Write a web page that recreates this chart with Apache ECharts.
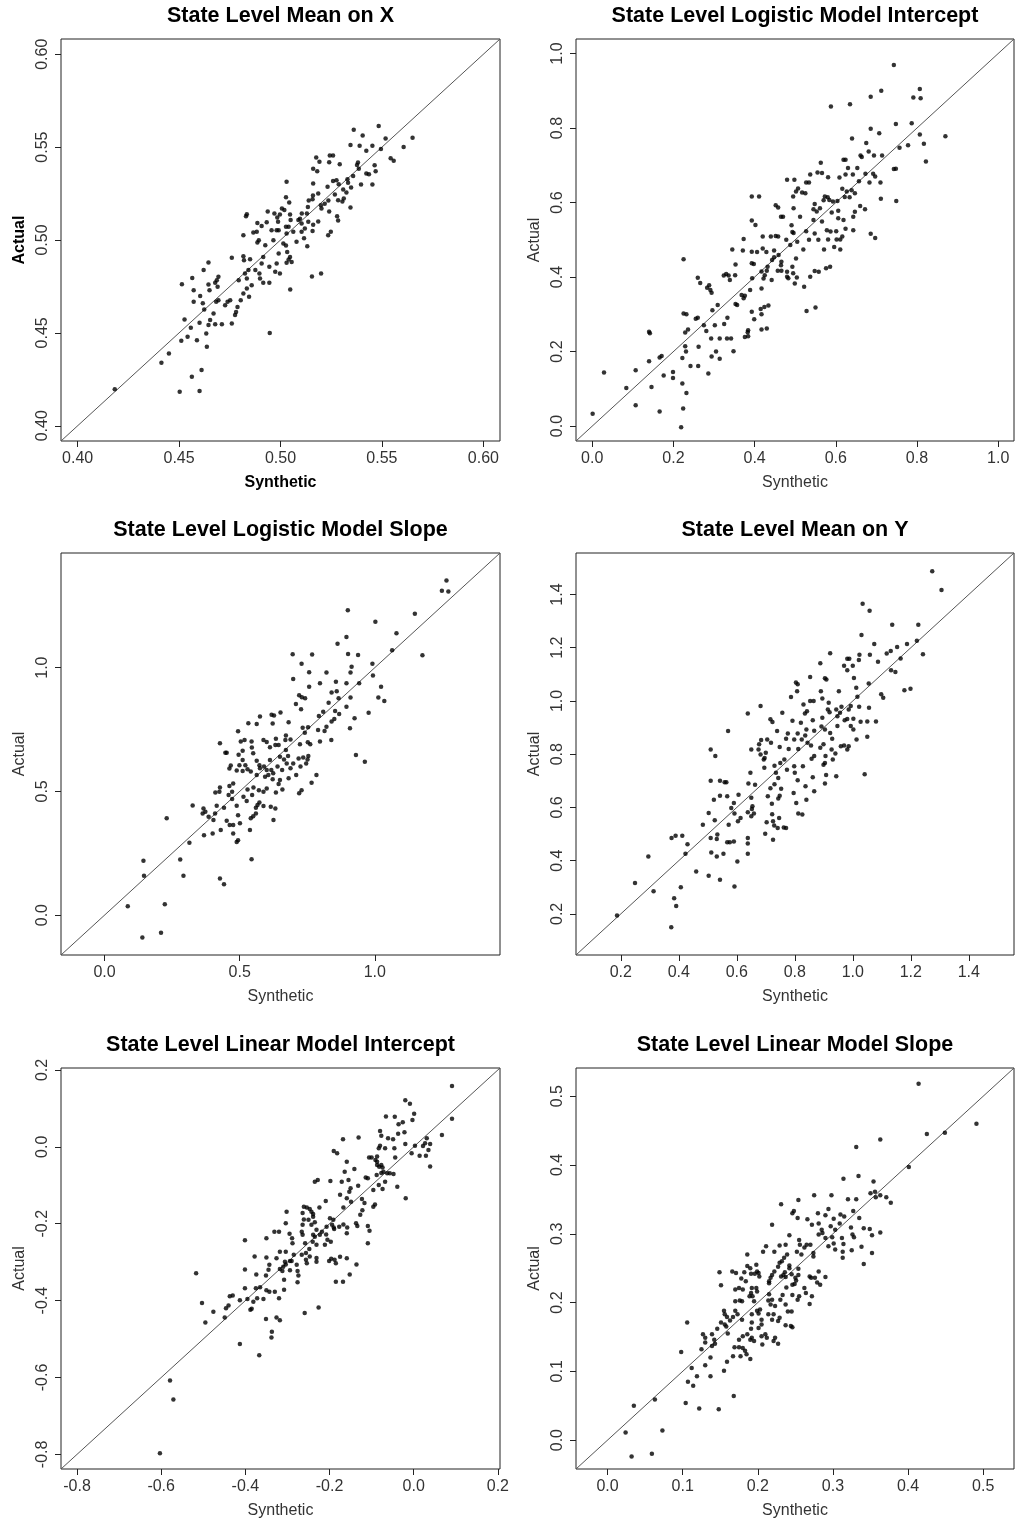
<!DOCTYPE html>
<html>
<head>
<meta charset="utf-8">
<script src="https://cdn.jsdelivr.net/npm/echarts@6/dist/echarts.min.js"></script>
<style>
  html, body { margin: 0; padding: 0; background: #fff; }
  #chart { width: 1015px; height: 1525px; }
</style>
</head>
<body>
<div id="chart"></div>
<script>
// Synthetic vs. actual state-level estimates, one [synthetic, actual] pair per state sample.
const meanXPoints = [
  [0.5484,0.5613],[0.5361,0.5593],[0.5405,0.5562],[0.5518,0.5546],[0.5651,0.5550],[0.5345,0.5512],[0.5390,0.5508],[0.5453,0.5508],
  [0.5423,0.5480],[0.5607,0.5501],[0.5495,0.5490],[0.5543,0.5440],[0.5558,0.5426],[0.5382,0.5417],[0.5377,0.5404],[0.5464,0.5403],
  [0.5469,0.5370],[0.5423,0.5358],[0.5436,0.5354],[0.5386,0.5383],[0.5358,0.5345],[0.5330,0.5327],[0.5453,0.5299],[0.5397,0.5299],
  [0.5348,0.5283],[0.5325,0.5256],[0.5312,0.5223],[0.5345,0.5175],[0.5276,0.5322],[0.5287,0.5300],[0.5292,0.5408],[0.5243,0.5455],
  [0.5259,0.5455],[0.5192,0.5421],[0.5240,0.5419],[0.5176,0.5444],[0.5181,0.5370],[0.5161,0.5383],[0.5161,0.5304],[0.5160,0.5239],
  [0.5186,0.5250],[0.5232,0.5286],[0.5259,0.5318],[0.5309,0.5272],[0.5268,0.5245],[0.5284,0.5214],[0.5305,0.5207],[0.5236,0.5213],
  [0.5218,0.5195],[0.5199,0.5187],[0.5202,0.5170],[0.5240,0.5153],[0.5279,0.5128],[0.5284,0.5105],[0.5248,0.5044],[0.5235,0.5026],
  [0.5186,0.5100],[0.5158,0.5220],[0.5139,0.5213],[0.5135,0.5178],[0.5130,0.5143],[0.5105,0.5143],[0.5096,0.5114],[0.5104,0.5089],
  [0.5088,0.5107],[0.5137,0.5098],[0.5161,0.5082],[0.5158,0.5048],[0.5120,0.5062],[0.5104,0.5044],[0.5116,0.5010],[0.5132,0.4967],
  [0.5079,0.4990],[0.5063,0.5044],[0.5040,0.5071],[0.5050,0.5107],[0.5047,0.5137],[0.5043,0.5202],[0.5030,0.5313],[0.5027,0.5230],
  [0.5019,0.5161],[0.5007,0.5170],[0.4997,0.5137],[0.4984,0.5121],[0.4970,0.5143],[0.4988,0.5098],[0.4991,0.5053],[0.5027,0.5071],
  [0.5030,0.5035],[0.4981,0.5053],[0.4956,0.5053],[0.4937,0.5153],[0.4932,0.5096],[0.4907,0.5076],[0.4886,0.5092],[0.4883,0.5044],
  [0.4866,0.5040],[0.4893,0.4999],[0.4886,0.4987],[0.4925,0.4972],[0.4965,0.4999],[0.5014,0.4981],[0.5027,0.4970],[0.5033,0.4936],
  [0.5047,0.4909],[0.5040,0.4895],[0.5055,0.4881],[0.5030,0.4877],[0.4991,0.4927],[0.4981,0.4874],[0.4974,0.4829],[0.4997,0.4820],
  [0.4945,0.4856],[0.4915,0.4909],[0.4907,0.4874],[0.4896,0.4820],[0.4899,0.4793],[0.4915,0.4770],[0.4945,0.4770],[0.4876,0.4838],
  [0.4850,0.4897],[0.4842,0.4838],[0.4834,0.4793],[0.4858,0.4757],[0.4834,0.4739],[0.4845,0.4694],[0.4817,0.4712],[0.4804,0.4676],
  [0.4788,0.4640],[0.4781,0.4613],[0.4776,0.4596],[0.4825,0.4820],[0.4820,0.4891],[0.4794,0.4784],[0.4817,0.4913],[0.4760,0.4904],
  [0.4830,0.5128],[0.4834,0.5139],[0.4817,0.5026],[0.4752,0.4676],[0.4739,0.4667],[0.4727,0.4649],[0.4760,0.4551],[0.4711,0.4547],
  [0.4694,0.4676],[0.4683,0.4667],[0.4690,0.4748],[0.4694,0.4802],[0.4686,0.4784],[0.4678,0.4770],[0.4645,0.4761],[0.4645,0.4879],
  [0.4650,0.4730],[0.4670,0.4604],[0.4678,0.4547],[0.4653,0.4569],[0.4645,0.4542],[0.4634,0.4497],[0.4637,0.4425],[0.4624,0.4626],
  [0.4617,0.4660],[0.4604,0.4698],[0.4621,0.4838],[0.4601,0.4554],[0.4588,0.4461],[0.4565,0.4796],[0.4572,0.4730],[0.4572,0.4667],
  [0.4558,0.4527],[0.4527,0.4572],[0.4542,0.4479],[0.4514,0.4762],[0.4511,0.4457],[0.4450,0.4389],[0.4413,0.4339],[0.4563,0.4264],
  [0.4611,0.4300],[0.4503,0.4183],[0.4601,0.4187],[0.4183,0.4197],[0.4947,0.4500],[0.5155,0.4804],[0.5200,0.4820],[0.5048,0.4734],
  [0.5333,0.5308]
];

const logitInterceptPoints = [
  [0.743,0.969],[0.712,0.900],[0.807,0.905],[0.686,0.884],[0.791,0.882],[0.809,0.880],[0.588,0.858],[0.635,0.864],[0.748,0.811],
  [0.787,0.813],[0.686,0.798],[0.707,0.786],[0.870,0.778],[0.807,0.783],[0.640,0.772],[0.817,0.758],[0.778,0.754],[0.757,0.747],
  [0.675,0.760],[0.681,0.737],[0.661,0.726],[0.664,0.722],[0.694,0.726],[0.714,0.726],[0.822,0.710],[0.619,0.715],[0.624,0.715],
  [0.563,0.707],[0.630,0.693],[0.653,0.693],[0.748,0.691],[0.743,0.690],[0.692,0.677],[0.673,0.677],[0.697,0.670],[0.642,0.675],
  [0.624,0.675],[0.555,0.681],[0.566,0.679],[0.581,0.668],[0.609,0.667],[0.537,0.675],[0.527,0.654],[0.534,0.654],[0.498,0.661],
  [0.480,0.661],[0.507,0.638],[0.616,0.637],[0.639,0.633],[0.627,0.630],[0.657,0.657],[0.683,0.654],[0.710,0.654],[0.517,0.627],
  [0.502,0.630],[0.525,0.625],[0.573,0.616],[0.580,0.614],[0.622,0.615],[0.634,0.614],[0.647,0.625],[0.711,0.610],[0.749,0.604],
  [0.495,0.616],[0.393,0.616],[0.411,0.616],[0.452,0.593],[0.458,0.587],[0.548,0.596],[0.570,0.606],[0.584,0.607],[0.593,0.603],
  [0.604,0.604],[0.660,0.591],[0.672,0.582],[0.606,0.578],[0.553,0.576],[0.561,0.585],[0.545,0.582],[0.496,0.585],[0.470,0.562],
  [0.465,0.562],[0.512,0.562],[0.590,0.573],[0.606,0.558],[0.619,0.553],[0.647,0.575],[0.643,0.562],[0.545,0.553],[0.566,0.549],
  [0.393,0.552],[0.402,0.540],[0.578,0.526],[0.587,0.522],[0.624,0.530],[0.643,0.526],[0.601,0.523],[0.527,0.523],[0.491,0.539],
  [0.493,0.521],[0.496,0.518],[0.548,0.517],[0.557,0.500],[0.581,0.501],[0.602,0.501],[0.611,0.501],[0.616,0.509],[0.686,0.516],
  [0.697,0.505],[0.611,0.474],[0.596,0.481],[0.571,0.474],[0.534,0.500],[0.520,0.474],[0.505,0.495],[0.478,0.500],[0.488,0.486],
  [0.452,0.510],[0.458,0.509],[0.440,0.509],[0.420,0.509],[0.373,0.502],[0.345,0.474],[0.371,0.471],[0.393,0.468],[0.406,0.467],
  [0.420,0.477],[0.429,0.467],[0.448,0.471],[0.459,0.459],[0.448,0.453],[0.443,0.446],[0.466,0.441],[0.465,0.432],[0.502,0.450],
  [0.493,0.428],[0.495,0.410],[0.480,0.414],[0.457,0.417],[0.466,0.417],[0.480,0.401],[0.483,0.397],[0.499,0.383],[0.504,0.399],
  [0.522,0.374],[0.537,0.401],[0.548,0.416],[0.558,0.414],[0.576,0.424],[0.550,0.318],[0.528,0.309],[0.417,0.415],[0.430,0.417],
  [0.425,0.405],[0.422,0.396],[0.417,0.369],[0.442,0.392],[0.432,0.428],[0.393,0.437],[0.398,0.435],[0.394,0.397],[0.389,0.365],
  [0.376,0.350],[0.373,0.343],[0.368,0.352],[0.357,0.325],[0.353,0.328],[0.352,0.405],[0.336,0.404],[0.330,0.408],[0.339,0.392],
  [0.324,0.404],[0.353,0.434],[0.288,0.378],[0.291,0.365],[0.283,0.371],[0.294,0.358],[0.260,0.398],[0.266,0.384],[0.225,0.448],
  [0.260,0.291],[0.255,0.288],[0.309,0.325],[0.296,0.311],[0.302,0.271],[0.275,0.271],[0.281,0.255],[0.293,0.235],[0.314,0.235],
  [0.325,0.274],[0.333,0.291],[0.332,0.235],[0.342,0.235],[0.225,0.302],[0.232,0.300],[0.229,0.251],[0.236,0.259],[0.229,0.214],
  [0.231,0.200],[0.222,0.183],[0.262,0.213],[0.242,0.161],[0.261,0.161],[0.286,0.141],[0.294,0.187],[0.305,0.200],[0.314,0.181],
  [0.348,0.201],[0.376,0.239],[0.384,0.257],[0.384,0.241],[0.383,0.252],[0.399,0.287],[0.393,0.307],[0.415,0.314],[0.417,0.300],
  [0.424,0.320],[0.434,0.324],[0.417,0.259],[0.430,0.262],[0.140,0.253],[0.142,0.249],[0.140,0.174],[0.166,0.184],[0.171,0.188],
  [0.176,0.136],[0.199,0.145],[0.199,0.129],[0.107,0.150],[0.084,0.102],[0.146,0.105],[0.107,0.056],[0.166,0.039],[0.222,0.114],
  [0.232,0.089],[0.224,0.047],[0.219,-0.003],[0.001,0.033],[0.029,0.144],[0.586,0.428]
];

const logitSlopePoints = [
  [1.265,1.352],[1.248,1.310],[1.272,1.307],[0.900,1.232],[1.148,1.218],[1.002,1.185],[1.080,1.139],[0.895,1.124],[0.862,1.096],
  [1.064,1.070],[1.176,1.050],[0.696,1.054],[0.768,1.053],[0.901,1.055],[0.938,1.051],[0.729,1.016],[0.991,1.016],[0.914,1.003],
  [0.910,0.980],[0.757,0.981],[0.821,0.980],[0.993,0.968],[0.698,0.954],[0.797,0.937],[0.856,0.943],[0.895,0.937],[0.942,0.937],
  [1.023,0.923],[0.757,0.923],[0.840,0.899],[0.859,0.904],[0.910,0.879],[1.013,0.879],[1.035,0.865],[0.720,0.888],[0.730,0.880],
  [0.742,0.876],[0.708,0.853],[0.866,0.876],[0.829,0.858],[0.895,0.842],[0.727,0.832],[0.809,0.822],[0.793,0.805],[0.853,0.825],
  [0.868,0.813],[0.850,0.792],[0.840,0.782],[0.977,0.818],[0.925,0.795],[0.908,0.755],[0.618,0.810],[0.627,0.807],[0.651,0.819],
  [0.575,0.802],[0.532,0.775],[0.563,0.772],[0.622,0.774],[0.681,0.779],[0.733,0.757],[0.753,0.759],[0.790,0.748],[0.814,0.744],
  [0.821,0.761],[0.839,0.708],[0.797,0.701],[0.741,0.737],[0.752,0.698],[0.723,0.690],[0.761,0.690],[0.688,0.710],[0.671,0.726],
  [0.669,0.708],[0.634,0.713],[0.632,0.687],[0.644,0.687],[0.600,0.699],[0.588,0.708],[0.612,0.678],[0.612,0.627],[0.649,0.640],
  [0.671,0.667],[0.664,0.629],[0.674,0.613],[0.679,0.643],[0.698,0.613],[0.718,0.633],[0.735,0.637],[0.754,0.643],[0.751,0.629],
  [0.746,0.613],[0.725,0.600],[0.688,0.593],[0.657,0.586],[0.640,0.600],[0.617,0.586],[0.624,0.573],[0.590,0.600],[0.573,0.606],
  [0.563,0.624],[0.550,0.654],[0.545,0.677],[0.544,0.701],[0.518,0.708],[0.504,0.702],[0.494,0.743],[0.511,0.664],[0.496,0.648],
  [0.511,0.627],[0.499,0.606],[0.521,0.606],[0.529,0.589],[0.511,0.582],[0.541,0.580],[0.563,0.566],[0.575,0.593],[0.600,0.586],
  [0.594,0.559],[0.606,0.566],[0.622,0.549],[0.649,0.546],[0.681,0.553],[0.709,0.566],[0.784,0.566],[0.766,0.535],[0.720,0.492],
  [0.729,0.505],[0.644,0.530],[0.658,0.508],[0.634,0.495],[0.600,0.512],[0.588,0.499],[0.571,0.505],[0.551,0.516],[0.529,0.508],
  [0.514,0.478],[0.546,0.485],[0.566,0.445],[0.573,0.455],[0.560,0.434],[0.588,0.441],[0.615,0.438],[0.632,0.431],[0.625,0.384],
  [0.526,0.461],[0.472,0.499],[0.476,0.532],[0.462,0.522],[0.459,0.485],[0.427,0.516],[0.425,0.499],[0.410,0.495],[0.427,0.694],
  [0.452,0.656],[0.447,0.656],[0.467,0.605],[0.462,0.592],[0.489,0.584],[0.415,0.442],[0.442,0.434],[0.472,0.469],[0.489,0.442],
  [0.494,0.404],[0.501,0.371],[0.489,0.296],[0.494,0.303],[0.476,0.330],[0.463,0.364],[0.452,0.381],[0.476,0.364],[0.541,0.391],
  [0.550,0.400],[0.560,0.411],[0.538,0.344],[0.544,0.226],[0.385,0.398],[0.366,0.431],[0.363,0.411],[0.373,0.418],[0.403,0.384],
  [0.409,0.411],[0.326,0.443],[0.368,0.323],[0.400,0.330],[0.430,0.344],[0.314,0.292],[0.280,0.225],[0.230,0.391],[0.144,0.220],
  [0.146,0.159],[0.292,0.159],[0.427,0.148],[0.442,0.125],[0.086,0.036],[0.223,0.044],[0.209,-0.071],[0.140,-0.090],[0.930,0.647],
  [0.963,0.620]
];

const meanYPoints = [
  [1.274,1.487],[1.306,1.417],[1.034,1.365],[1.058,1.339],[1.136,1.286],[1.226,1.286],[1.030,1.248],[1.221,1.226],[1.074,1.214],
  [1.187,1.214],[1.153,1.203],[1.131,1.188],[1.117,1.178],[0.922,1.179],[1.242,1.176],[1.023,1.174],[1.059,1.174],[1.165,1.160],
  [0.981,1.159],[0.988,1.159],[0.970,1.132],[1.000,1.132],[1.087,1.147],[0.888,1.142],[1.021,1.154],[0.981,1.115],[1.132,1.115],
  [1.147,1.109],[0.804,1.069],[0.810,1.063],[0.904,1.085],[0.909,1.081],[0.853,1.090],[1.004,1.086],[1.055,1.066],[1.098,1.025],
  [1.105,1.012],[1.178,1.040],[1.199,1.046],[0.808,1.037],[0.787,1.015],[0.890,1.037],[0.952,1.037],[1.012,1.050],[1.016,1.016],
  [0.682,0.981],[0.638,0.953],[0.853,1.000],[0.865,1.000],[0.830,0.987],[0.917,0.993],[0.895,1.009],[0.914,0.968],[0.961,0.978],
  [0.986,0.968],[0.956,0.956],[0.993,0.981],[1.056,0.975],[1.022,0.978],[0.943,0.968],[0.842,0.961],[0.835,0.953],[0.895,0.937],
  [0.920,0.958],[0.947,0.943],[0.981,0.932],[0.972,0.928],[1.002,0.933],[1.080,0.923],[1.050,0.923],[1.027,0.922],[0.862,0.928],
  [0.821,0.918],[0.792,0.926],[0.757,0.956],[0.716,0.931],[0.723,0.921],[0.892,0.904],[0.947,0.906],[0.993,0.906],[1.002,0.893],
  [0.840,0.893],[0.867,0.888],[0.904,0.893],[0.922,0.880],[0.836,0.870],[0.810,0.878],[0.776,0.878],[0.739,0.887],[0.770,0.858],
  [0.798,0.855],[0.824,0.855],[0.684,0.853],[0.705,0.855],[0.677,0.837],[0.650,0.818],[0.675,0.818],[0.682,0.799],[0.718,0.843],
  [0.748,0.827],[0.779,0.820],[0.812,0.820],[0.844,0.843],[0.856,0.833],[0.867,0.793],[0.888,0.824],[0.899,0.837],[0.959,0.830],
  [0.970,0.833],[0.986,0.830],[0.981,0.818],[0.929,0.858],[0.927,0.818],[0.940,0.803],[1.013,0.855],[0.858,0.783],[0.906,0.793],
  [0.904,0.767],[0.931,0.780],[0.899,0.760],[0.908,0.722],[0.943,0.717],[0.904,0.690],[0.862,0.713],[0.867,0.661],[0.837,0.680],
  [0.828,0.755],[0.798,0.755],[0.800,0.730],[0.810,0.702],[0.796,0.654],[0.805,0.617],[0.812,0.577],[0.826,0.573],[0.840,0.629],
  [0.764,0.780],[0.773,0.742],[0.750,0.767],[0.730,0.757],[0.735,0.730],[0.743,0.711],[0.753,0.670],[0.748,0.644],[0.743,0.634],
  [0.716,0.672],[0.730,0.687],[0.721,0.614],[0.722,0.574],[0.725,0.548],[0.741,0.523],[0.746,0.560],[0.762,0.525],[0.770,0.523],
  [0.729,0.532],[0.725,0.479],[0.698,0.501],[0.703,0.544],[0.707,0.642],[0.695,0.749],[0.693,0.780],[0.696,0.786],[0.700,0.805],
  [0.647,0.730],[0.640,0.690],[0.663,0.685],[0.650,0.636],[0.654,0.604],[0.652,0.594],[0.659,0.577],[0.650,0.567],[0.638,0.582],
  [0.638,0.485],[0.638,0.464],[0.638,0.426],[0.606,0.648],[0.613,0.560],[0.604,0.548],[0.590,0.617],[0.581,0.598],[0.592,0.577],
  [0.590,0.472],[0.576,0.469],[0.602,0.397],[0.592,0.303],[0.567,0.469],[0.572,0.535],[0.567,0.642],[0.564,0.695],[0.570,0.887],
  [0.558,0.695],[0.542,0.644],[0.521,0.629],[0.503,0.579],[0.524,0.552],[0.510,0.485],[0.531,0.481],[0.533,0.498],[0.531,0.416],
  [0.512,0.431],[0.554,0.426],[0.542,0.328],[0.503,0.343],[0.510,0.818],[0.526,0.793],[0.510,0.700],[0.542,0.700],[0.483,0.535],
  [0.460,0.359],[0.430,0.462],[0.423,0.426],[0.412,0.494],[0.389,0.494],[0.375,0.485],[0.407,0.300],[0.384,0.259],[0.391,0.230],
  [0.374,0.150],[0.313,0.285],[0.295,0.416],[0.249,0.316],[0.187,0.194],[1.041,0.725],[1.050,0.866]
];

const linearInterceptPoints = [
  [0.091,0.158],[0.091,0.073],[-0.020,0.121],[-0.009,0.112],[0.001,0.086],[-0.003,0.070],[-0.066,0.079],[-0.045,0.078],
  [-0.036,0.059],[-0.026,0.064],[-0.022,0.038],[-0.037,0.034],[-0.080,0.041],[-0.077,0.029],[-0.061,0.022],[-0.049,0.020],
  [0.067,0.031],[-0.131,0.024],[-0.168,0.020],[0.031,0.022],[0.027,0.009],[-0.020,0.007],[0.003,0.003],[0.022,0.002],
  [0.039,0.007],[0.035,-0.008],[-0.005,-0.017],[0.014,-0.023],[0.029,-0.023],[-0.080,0.003],[-0.083,-0.004],[-0.068,-0.004],
  [-0.046,-0.004],[-0.087,-0.025],[-0.044,-0.028],[-0.019,-0.134],[0.039,-0.051],[-0.190,-0.011],[-0.182,-0.017],[-0.106,-0.028],
  [-0.100,-0.028],[-0.091,-0.034],[-0.087,-0.039],[-0.087,-0.047],[-0.082,-0.052],[-0.077,-0.047],[-0.074,-0.054],[-0.072,-0.065],
  [-0.063,-0.069],[-0.077,-0.068],[-0.088,-0.073],[-0.057,-0.069],[-0.048,-0.071],[-0.068,-0.091],[-0.083,-0.099],[-0.096,-0.112],
  [-0.074,-0.110],[-0.039,-0.104],[-0.092,-0.150],[-0.096,-0.156],[-0.117,-0.146],[-0.114,-0.080],[-0.109,-0.082],[-0.132,-0.101],
  [-0.159,-0.039],[-0.141,-0.058],[-0.164,-0.065],[-0.171,-0.091],[-0.155,-0.086],[-0.150,-0.108],[-0.153,-0.117],[-0.159,-0.134],
  [-0.175,-0.125],[-0.167,-0.158],[-0.149,-0.143],[-0.123,-0.136],[-0.122,-0.165],[-0.127,-0.177],[-0.109,-0.206],[-0.105,-0.218],
  [-0.109,-0.251],[-0.137,-0.199],[-0.134,-0.206],[-0.158,-0.210],[-0.159,-0.225],[-0.167,-0.202],[-0.177,-0.208],[-0.190,-0.210],
  [-0.194,-0.203],[-0.199,-0.186],[-0.191,-0.190],[-0.189,-0.214],[-0.207,-0.208],[-0.208,-0.228],[-0.223,-0.229],[-0.218,-0.221],
  [-0.231,-0.216],[-0.235,-0.234],[-0.239,-0.229],[-0.205,-0.242],[-0.197,-0.247],[-0.211,-0.255],[-0.231,-0.255],[-0.240,-0.247],
  [-0.248,-0.266],[-0.258,-0.251],[-0.264,-0.229],[-0.266,-0.221],[-0.264,-0.203],[-0.261,-0.189],[-0.264,-0.172],[-0.239,-0.182],
  [-0.235,-0.196],[-0.243,-0.203],[-0.243,-0.169],[-0.247,-0.162],[-0.254,-0.158],[-0.250,-0.190],[-0.235,-0.091],[-0.228,-0.086],
  [-0.261,-0.156],[-0.209,-0.141],[-0.239,-0.175],[-0.224,-0.158],[-0.198,-0.089],[-0.302,-0.169],[-0.304,-0.199],[-0.320,-0.221],
  [-0.331,-0.221],[-0.289,-0.238],[-0.295,-0.226],[-0.288,-0.251],[-0.285,-0.281],[-0.278,-0.307],[-0.276,-0.323],[-0.274,-0.335],
  [-0.276,-0.352],[-0.266,-0.281],[-0.256,-0.276],[-0.256,-0.294],[-0.254,-0.303],[-0.247,-0.285],[-0.231,-0.299],[-0.231,-0.289],
  [-0.294,-0.297],[-0.290,-0.297],[-0.306,-0.299],[-0.310,-0.312],[-0.318,-0.318],[-0.312,-0.323],[-0.294,-0.321],[-0.304,-0.306],
  [-0.308,-0.346],[-0.318,-0.273],[-0.304,-0.273],[-0.326,-0.290],[-0.343,-0.307],[-0.345,-0.320],[-0.330,-0.377],[-0.320,-0.394],
  [-0.351,-0.335],[-0.350,-0.238],[-0.350,-0.288],[-0.378,-0.285],[-0.374,-0.332],[-0.365,-0.365],[-0.375,-0.368],[-0.350,-0.373],
  [-0.343,-0.377],[-0.357,-0.396],[-0.372,-0.394],[-0.381,-0.403],[-0.388,-0.424],[-0.385,-0.421],[-0.395,-0.396],[-0.401,-0.368],
  [-0.401,-0.319],[-0.401,-0.243],[-0.413,-0.399],[-0.430,-0.387],[-0.437,-0.389],[-0.446,-0.420],[-0.440,-0.413],[-0.449,-0.444],
  [-0.476,-0.429],[-0.503,-0.406],[-0.495,-0.457],[-0.517,-0.329],[-0.413,-0.513],[-0.367,-0.542],[-0.337,-0.481],[-0.338,-0.496],
  [-0.351,-0.448],[-0.326,-0.444],[-0.318,-0.451],[-0.308,-0.372],[-0.259,-0.432],[-0.226,-0.418],[-0.185,-0.351],[-0.168,-0.351],
  [-0.152,-0.332],[-0.159,-0.290],[-0.175,-0.286],[-0.185,-0.303],[-0.188,-0.294],[-0.201,-0.297],[-0.196,-0.291],[-0.136,-0.306],
  [-0.579,-0.608],[-0.571,-0.657],[-0.603,-0.797]
];

const linearSlopePoints = [
  [0.414,0.518],[0.491,0.460],[0.425,0.445],[0.449,0.447],[0.363,0.437],[0.331,0.426],[0.401,0.397],[0.314,0.380],[0.334,0.384],
  [0.354,0.376],[0.275,0.356],[0.298,0.356],[0.320,0.350],[0.331,0.350],[0.254,0.349],[0.231,0.343],[0.377,0.345],[0.371,0.353],
  [0.350,0.359],[0.357,0.353],[0.363,0.356],[0.356,0.361],[0.246,0.330],[0.248,0.333],[0.253,0.323],[0.327,0.333],[0.294,0.336],
  [0.310,0.328],[0.315,0.325],[0.280,0.330],[0.290,0.327],[0.266,0.321],[0.301,0.322],[0.281,0.315],[0.285,0.306],[0.272,0.313],
  [0.297,0.311],[0.303,0.306],[0.309,0.315],[0.341,0.308],[0.349,0.307],[0.363,0.302],[0.324,0.309],[0.326,0.299],[0.328,0.295],
  [0.242,0.298],[0.219,0.313],[0.281,0.299],[0.286,0.301],[0.290,0.294],[0.299,0.295],[0.312,0.294],[0.301,0.286],[0.294,0.282],
  [0.303,0.277],[0.314,0.285],[0.313,0.274],[0.313,0.265],[0.325,0.276],[0.338,0.281],[0.352,0.272],[0.341,0.256],[0.352,0.298],
  [0.255,0.291],[0.256,0.284],[0.252,0.274],[0.258,0.270],[0.262,0.280],[0.265,0.284],[0.270,0.284],[0.274,0.272],[0.274,0.267],
  [0.237,0.284],[0.229,0.283],[0.222,0.274],[0.211,0.282],[0.207,0.274],[0.239,0.270],[0.235,0.265],[0.232,0.260],[0.229,0.258],
  [0.227,0.252],[0.242,0.250],[0.242,0.254],[0.254,0.249],[0.254,0.240],[0.250,0.236],[0.245,0.241],[0.236,0.244],[0.234,0.240],
  [0.237,0.237],[0.231,0.238],[0.222,0.245],[0.219,0.240],[0.217,0.236],[0.215,0.231],[0.215,0.228],[0.198,0.255],[0.199,0.245],
  [0.201,0.243],[0.196,0.242],[0.202,0.238],[0.191,0.242],[0.186,0.270],[0.186,0.253],[0.190,0.250],[0.182,0.244],[0.171,0.243],
  [0.166,0.245],[0.149,0.244],[0.178,0.235],[0.184,0.231],[0.170,0.219],[0.175,0.221],[0.180,0.219],[0.170,0.202],[0.176,0.203],
  [0.179,0.202],[0.192,0.221],[0.198,0.221],[0.199,0.216],[0.191,0.214],[0.189,0.209],[0.193,0.209],[0.195,0.202],[0.215,0.212],
  [0.214,0.203],[0.219,0.204],[0.217,0.197],[0.203,0.190],[0.199,0.188],[0.201,0.184],[0.214,0.183],[0.223,0.195],[0.230,0.204],
  [0.237,0.197],[0.233,0.211],[0.238,0.222],[0.246,0.226],[0.251,0.232],[0.249,0.227],[0.262,0.221],[0.264,0.214],[0.255,0.209],
  [0.246,0.211],[0.253,0.204],[0.240,0.187],[0.245,0.187],[0.221,0.183],[0.219,0.175],[0.229,0.178],[0.227,0.173],[0.237,0.167],
  [0.244,0.166],[0.246,0.164],[0.272,0.209],[0.269,0.198],[0.279,0.229],[0.276,0.236],[0.281,0.245],[0.290,0.237],[0.269,0.238],
  [0.271,0.236],[0.283,0.226],[0.205,0.175],[0.205,0.168],[0.201,0.163],[0.205,0.151],[0.192,0.183],[0.192,0.171],[0.191,0.162],
  [0.192,0.149],[0.195,0.144],[0.190,0.146],[0.186,0.154],[0.180,0.151],[0.175,0.146],[0.175,0.135],[0.180,0.134],[0.177,0.122],
  [0.185,0.125],[0.190,0.118],[0.183,0.130],[0.179,0.175],[0.173,0.183],[0.167,0.179],[0.170,0.188],[0.163,0.174],[0.155,0.188],
  [0.156,0.183],[0.159,0.179],[0.156,0.168],[0.151,0.171],[0.146,0.162],[0.139,0.154],[0.142,0.146],[0.143,0.140],[0.139,0.137],
  [0.130,0.149],[0.127,0.154],[0.130,0.142],[0.125,0.132],[0.137,0.120],[0.137,0.093],[0.130,0.109],[0.119,0.093],[0.112,0.105],
  [0.107,0.085],[0.114,0.079],[0.098,0.128],[0.106,0.171],[0.155,0.101],[0.159,0.114],[0.167,0.122],[0.169,0.135],[0.160,0.155],
  [0.158,0.165],[0.151,0.225],[0.168,0.064],[0.104,0.054],[0.122,0.046],[0.148,0.045],[0.063,0.059],[0.035,0.050],[0.024,0.011],
  [0.073,0.014],[0.032,-0.024],[0.059,-0.020],[0.210,0.154],[0.221,0.144],[0.227,0.140],[0.223,0.149],[0.206,0.139],[0.212,0.149],
  [0.335,0.323]
];

// Tick values for each panel (same on both axes of a panel).
const meanXTicks = [0.40, 0.45, 0.50, 0.55, 0.60];
const logitInterceptTicks = [0.0, 0.2, 0.4, 0.6, 0.8, 1.0];
const logitSlopeTicks = [0.0, 0.5, 1.0];
const meanYTicks = [0.2, 0.4, 0.6, 0.8, 1.0, 1.2, 1.4];
const linearInterceptTicks = [-0.8, -0.6, -0.4, -0.2, 0.0, 0.2];
const linearSlopeTicks = [0.0, 0.1, 0.2, 0.3, 0.4, 0.5];

const panelTitles = [
  'State Level Mean on X',
  'State Level Logistic Model Intercept',
  'State Level Logistic Model Slope',
  'State Level Mean on Y',
  'State Level Linear Model Intercept',
  'State Level Linear Model Slope'
];

const panels = [
  { pts: meanXPoints, ticks: meanXTicks, lo: 0.3918, hi: 0.6082, digits: 2, bold: true },
  { pts: logitInterceptPoints, ticks: logitInterceptTicks, lo: -0.040, hi: 1.039, digits: 1, bold: false },
  { pts: logitSlopePoints, ticks: logitSlopeTicks, lo: -0.161, hi: 1.463, digits: 1, bold: false },
  { pts: meanYPoints, ticks: meanYTicks, lo: 0.0455, hi: 1.556, digits: 1, bold: false },
  { pts: linearInterceptPoints, ticks: linearInterceptTicks, lo: -0.838, hi: 0.205, digits: 1, bold: false },
  { pts: linearSlopePoints, ticks: linearSlopeTicks, lo: -0.042, hi: 0.541, digits: 1, bold: false }
];

// Plot frames: two columns, three rows.
const cols = [{ left: 61, width: 439 }, { left: 576, width: 438 }];
const rows = [{ top: 39, height: 402 }, { top: 553, height: 402 }, { top: 1068, height: 401 }];

const FONT = '"Liberation Sans", Arial, Helvetica, sans-serif';
const LABEL = '#333';

const grids = [], xAxes = [], yAxes = [], titles = [], series = [];

panels.forEach((p, i) => {
  const c = cols[i % 2], r = rows[Math.floor(i / 2)];
  grids.push({
    left: c.left, top: r.top, width: c.width, height: r.height,
    show: true, borderColor: '#222', borderWidth: 1, backgroundColor: 'transparent'
  });
  titles.push({
    text: panelTitles[i],
    left: c.left + c.width / 2,
    top: r.top - 34,
    textAlign: 'center',
    padding: 0,
    textStyle: { fontFamily: FONT, fontSize: 21.5, fontWeight: 'bold', color: '#000' }
  });
  const fmt = v => Number(v).toFixed(p.digits);
  const nameStyle = { fontFamily: FONT, fontSize: 16, fontWeight: p.bold ? 'bold' : 'normal', color: p.bold ? '#000' : LABEL };
  const common = {
    gridIndex: i, type: 'value', min: p.lo, max: p.hi,
    axisLine: { show: false, onZero: false },
    splitLine: { show: false },
    axisTick: { show: true, inside: false, length: 6, customValues: p.ticks, lineStyle: { color: '#222', width: 1 } },
    nameLocation: 'middle'
  };
  xAxes.push(Object.assign({}, common, {
    position: 'bottom',
    name: 'Synthetic', nameGap: 34, nameTextStyle: nameStyle,
    axisLabel: { customValues: p.ticks, formatter: fmt, margin: 10, fontFamily: FONT, fontSize: 16, color: LABEL, hideOverlap: false, showMinLabel: true, showMaxLabel: true }
  }));
  yAxes.push(Object.assign({}, common, {
    position: 'left',
    name: 'Actual', nameGap: 33, nameTextStyle: nameStyle,
    axisLabel: { customValues: p.ticks, formatter: fmt, rotate: 90, margin: 10, fontFamily: FONT, fontSize: 16, color: LABEL, hideOverlap: false, showMinLabel: true, showMaxLabel: true }
  }));
  // 45-degree reference line across the whole frame
  series.push({
    type: 'line', xAxisIndex: i, yAxisIndex: i, silent: true, symbol: 'none', z: 1,
    data: [[p.lo, p.lo], [p.hi, p.hi]],
    lineStyle: { color: '#555', width: 1 }
  });
  series.push({
    type: 'scatter', xAxisIndex: i, yAxisIndex: i, z: 2,
    symbol: 'circle', symbolSize: 4.5,
    itemStyle: { color: '#000' },
    data: p.pts
  });
});

const chart = echarts.init(document.getElementById('chart'), null, { renderer: 'canvas' });
chart.setOption({
  animation: false,
  backgroundColor: '#fff',
  title: titles,
  grid: grids,
  xAxis: xAxes,
  yAxis: yAxes,
  series: series
});
</script>
</body>
</html>
